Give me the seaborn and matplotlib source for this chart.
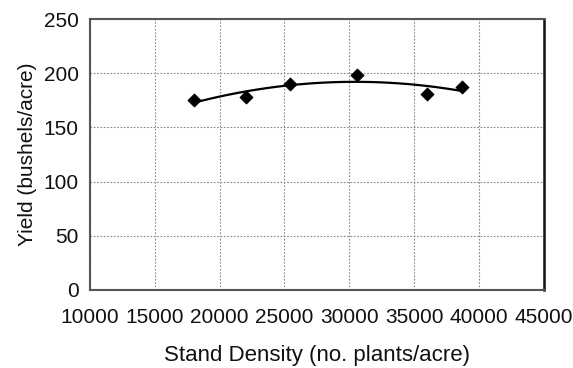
import matplotlib
matplotlib.use("Agg")
import matplotlib.pyplot as plt
import seaborn as sns
import pandas as pd
import numpy as np

# Data
stand_density = [18000, 22000, 25400, 30600, 36000, 38700]
yield_vals = [175, 178, 190, 198, 181, 187]
x_ticks = [10000, 15000, 20000, 25000, 30000, 35000, 40000, 45000]
y_ticks = [0, 50, 100, 150, 200, 250]

df = pd.DataFrame({"density": stand_density, "yield": yield_vals})

sns.set_style("white")
plt.rcParams['font.family'] = ['Liberation Sans', 'DejaVu Sans']

fig = plt.figure(figsize=(5.73, 3.68), dpi=100)
ax = fig.add_axes([0.157, 0.212, 0.792, 0.736])

sns.regplot(data=df, x="density", y="yield", order=2, ci=None, truncate=True,
            scatter=False, line_kws=dict(color="black", lw=1.6), ax=ax)
sns.scatterplot(data=df, x="density", y="yield", marker="D", s=45,
                color="black", edgecolor="black", ax=ax, zorder=5)

ax.set_xlim(10000, 45000)
ax.set_ylim(0, 250)
ax.set_xticks(x_ticks)
ax.set_yticks(y_ticks)
ax.set_xticklabels([str(t) for t in x_ticks])
ax.set_yticklabels([str(t) for t in y_ticks])

ax.grid(True, linestyle=(0, (1.5, 1.5)), color="#888888", lw=0.8)
ax.set_axisbelow(True)

for side in ["left", "bottom", "top"]:
    ax.spines[side].set_color("#555555")
    ax.spines[side].set_linewidth(1.5)
ax.spines["right"].set_color("#111111")
ax.spines["right"].set_linewidth(1.8)

ax.tick_params(axis="both", which="major", direction="out", length=5,
               width=1.2, color="#555555", labelsize=15, labelcolor="#111111")
ax.tick_params(axis="y", pad=3)
ax.tick_params(axis="x", pad=8)

ax.set_xlabel("Stand Density (no. plants/acre)", fontsize=16, labelpad=13,
              color="#111111")
ax.set_ylabel("Yield (bushels/acre)", fontsize=15, labelpad=5, color="#111111")

fig.savefig("out.png", dpi=100)
